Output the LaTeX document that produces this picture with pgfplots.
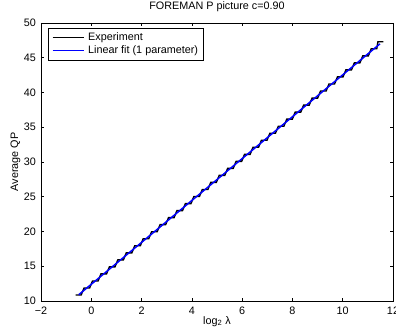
\documentclass[border=0pt]{standalone}
\usepackage{fontspec}
\setmainfont{Liberation Sans}
\usepackage{pgfplots}
\pgfplotsset{compat=1.18}
\newcommand{\mf}{\fontsize{10.8bp}{13bp}\selectfont}
\begin{document}
\begin{tikzpicture}
\begin{axis}[
  name=ax,
  scale only axis,
  width=352bp, height=278bp,
  xmin=-2, xmax=12, ymin=10, ymax=50,
  xtick={-2,0,2,4,6,8,10,12},
  xticklabels={−2,0,2,4,6,8,10,12},
  ytick={10,15,20,25,30,35,40,45,50},
  yticklabels={10,15,20,25,30,35,40,45,50},
  tick align=inside,
  major tick length=3.5bp,
  every tick/.style={black, line width=0.6pt},
  axis line style={line width=0.9pt},
  xticklabel style={font=\mf, anchor=base, yshift=-13bp},
  yticklabel style={font=\mf, anchor=east, inner sep=0pt, xshift=-5bp},
  title={FOREMAN P picture c=0.90},
  title style={font=\mf, at={(axis description cs:0.5,1)}, anchor=base, yshift=7.5bp, inner sep=0pt},
  xlabel={log\textsubscript{2} λ},
  xlabel style={font=\mf, at={(axis description cs:0.5,0)}, anchor=base, yshift=-23bp, inner sep=0pt},
  ylabel={Average QP},
  ylabel style={font=\mf, at={(axis description cs:-0.0653,0.5)}, anchor=base, inner sep=0pt},
  legend style={font=\mf, at={(axis description cs:0.0199,0.982)}, anchor=north west,
    draw=black, line width=0.7pt, inner xsep=3.5bp, inner ysep=2.5bp, row sep=0bp},
  legend cell align=left,
  legend image code/.code={\draw[#1, line width=1.3pt] (0bp,0bp) -- (31bp,0bp); \path (33bp,0bp);},
]
\addplot[black, line width=1.4pt] coordinates {
(-0.623,10.86) (-0.403,10.86)
(-0.287,11.87) (-0.067,11.87)
(0.049,12.88) (0.269,12.88)
(0.385,13.90) (0.605,13.90)
(0.721,14.91) (0.941,14.91)
(1.057,15.92) (1.277,15.92)
(1.393,16.93) (1.613,16.93)
(1.729,17.95) (1.949,17.95)
(2.065,18.96) (2.285,18.96)
(2.400,19.97) (2.620,19.97)
(2.736,20.98) (2.956,20.98)
(3.072,21.99) (3.292,21.99)
(3.408,23.01) (3.628,23.01)
(3.744,24.02) (3.964,24.02)
(4.080,25.03) (4.300,25.03)
(4.416,26.04) (4.636,26.04)
(4.752,27.06) (4.972,27.06)
(5.088,28.07) (5.308,28.07)
(5.424,29.08) (5.644,29.08)
(5.760,30.09) (5.980,30.09)
(6.096,31.10) (6.316,31.10)
(6.432,32.12) (6.652,32.12)
(6.768,33.13) (6.988,33.13)
(7.104,34.14) (7.324,34.14)
(7.440,35.15) (7.660,35.15)
(7.776,36.17) (7.996,36.17)
(8.111,37.18) (8.331,37.18)
(8.447,38.19) (8.667,38.19)
(8.783,39.20) (9.003,39.20)
(9.119,40.21) (9.339,40.21)
(9.455,41.23) (9.675,41.23)
(9.791,42.24) (10.011,42.24)
(10.127,43.25) (10.347,43.25)
(10.463,44.26) (10.683,44.26)
(10.799,45.27) (11.019,45.27)
(11.135,46.29) (11.355,46.29)
(11.400,47.30) (11.620,47.30)
};
\addlegendentry{Experiment}
\addplot[blue, line width=1.5pt] coordinates {(-0.5,10.9) (11.48,47.0)};
\addlegendentry{Linear fit (1 parameter)}
\end{axis}
\pgfresetboundingbox
\path (ax.south west) ++(-41bp,-31bp) rectangle ([xshift=3bp,yshift=23bp]ax.north east);
\end{tikzpicture}
\end{document}
